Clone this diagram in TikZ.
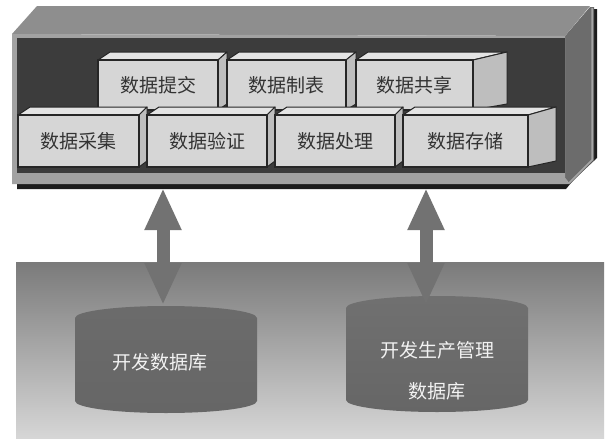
\documentclass[tikz,border=0pt]{standalone}
\usepackage{fontspec}
\setmainfont{Noto Sans CJK SC}
\usetikzlibrary{arrows.meta}
\definecolor{boxtopc}{HTML}{8E8E8E}
\definecolor{boxrimc}{HTML}{A2A2A2}
\definecolor{boxinnerc}{HTML}{3C3C3C}
\definecolor{boxsidec}{HTML}{6C6C6C}
\definecolor{shadowc}{HTML}{1C1C1C}
\definecolor{brickfrontc}{HTML}{D6D6D6}
\definecolor{bricktopc}{HTML}{E4E4E4}
\definecolor{bricksidec}{HTML}{BEBEBE}
\definecolor{arrowc}{HTML}{727272}
\tikzset{
  bricktop/.style={fill=bricktopc, draw=black!85, line width=1pt, line join=round},
  brickside/.style={fill=bricksidec, draw=black!85, line width=1pt, line join=round},
  brickface/.style={draw=black!85, line width=1.4pt, fill=brickfrontc, inner sep=0pt, outer sep=0pt,
    font=\fontsize{19}{19}\selectfont, text=black!80},
  fatarrow/.style={line width=13pt, draw=arrowc,
    {Triangle[width=34pt,length=42pt]}-{Triangle[width=34pt,length=42pt]}},
  dblabel/.style={text=white!95!black, font=\fontsize{19}{41}\selectfont, align=center, inner sep=0pt}
}
\newcommand{\mybrick}[7]{%
  \filldraw[bricktop] (#2,#3) -- ++(12,-8) -- ({#4+#6},{#3-8}) -- (#4,#3) -- cycle;
  \filldraw[brickside] (#4,#3) -- ({#4+#6},{#3-8}) -- ({#4+#6},{#5-6}) -- (#4,#5) -- cycle;
  \node[brickface, minimum width={#4-#2}, minimum height={#5-#3}] (#1) at ({(#2+#4)/2},{(#3+#5)/2}) {#7};
}
\begin{document}
\begin{tikzpicture}[x=1pt, y={(0pt,-1pt)}]
\useasboundingbox (0,0) rectangle (613,439);
\fill[white] (0,0) rectangle (613,439);
% lower background
\shade[top color=black!52, middle color=black!42, bottom color=black!16] (16,262) rectangle (604,438);
% cylinders
\shade[top color=black!58, bottom color=black!60]
  (75,318) -- (75,401) arc[start angle=180, end angle=0, x radius=91, y radius=12]
  -- (257,318) arc[start angle=0, end angle=-180, x radius=91, y radius=12] -- cycle;
\shade[top color=black!56, bottom color=black!60]
  (346,308) -- (346,400) arc[start angle=180, end angle=0, x radius=91, y radius=12]
  -- (528,308) arc[start angle=0, end angle=-180, x radius=91, y radius=12] -- cycle;
\node[dblabel] (db1) at (160,362) {开发数据库};
\node[dblabel] (db2) at (437,371) {开发生产管理\\数据库};
% outer box: shadow, right face, top face, rim, inner
\fill[shadowc] (17,183) -- (570,183) -- (597,158) -- (597,9) -- (590,9) -- (590,160) -- (566,189) -- (17,189) -- cycle;
\fill[boxsidec] (565,36) -- (590,7) -- (594,7) -- (594,160) -- (570,184) -- (565,178) -- cycle;
\draw[black!35, line width=1.5pt] (592,8) -- (592,160) -- (569,183);
\fill[boxtopc] (12,34) -- (37,6) -- (590,6) -- (565,36) -- cycle;
\fill[boxrimc] (12,34) -- (565,36) -- (565,178) -- (570,184) -- (12,184) -- cycle;
\fill[boxinnerc] (17,38) rectangle (565,173);
\coordinate (boxL) at (163,188);
\coordinate (boxR) at (426,188);
% bricks, top row then bottom row
\mybrick{tj}{98}{60}{218}{110}{9}{数据提交}
\mybrick{zb}{227}{60}{346}{110}{10}{数据制表}
\mybrick{gx}{356}{60}{473}{110}{34}{数据共享}
\mybrick{cj}{18}{115}{139}{167}{8}{数据采集}
\mybrick{yz}{147}{115}{267}{167}{8}{数据验证}
\mybrick{cl}{275}{115}{395}{167}{8}{数据处理}
\mybrick{cc}{403}{115}{528}{167}{28}{数据存储}
% arrows
\coordinate (cylL) at (163,305);
\coordinate (cylR) at (426,305);
\draw[fatarrow] (boxL) -- (cylL);
\draw[fatarrow] (boxR) -- (cylR);
\end{tikzpicture}
\end{document}
